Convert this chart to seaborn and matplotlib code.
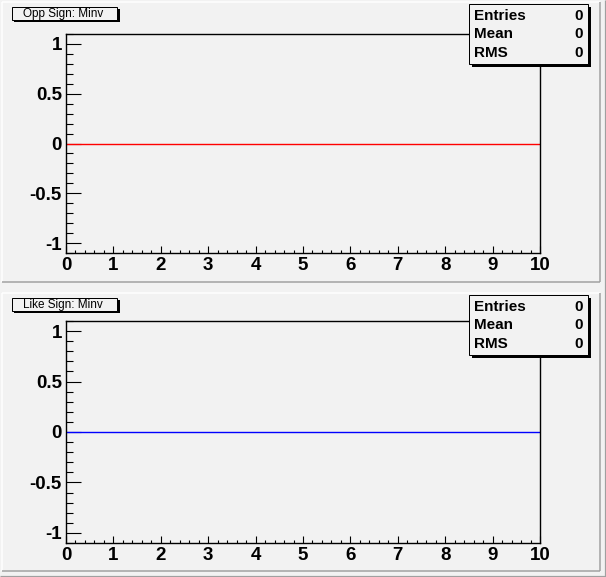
import matplotlib
matplotlib.use("Agg")
import matplotlib.pyplot as plt
from matplotlib.patches import Rectangle
from matplotlib.ticker import MultipleLocator
import seaborn as sns
import pandas as pd

# ---- data ----
pad_titles = ["Opp Sign: Minv", "Like Sign: Minv"]
line_colors = ["#ff0000", "#0000ff"]
hist_x = [0, 10]
hist_y = [0, 0]
stat_names = ["Entries", "Mean", "RMS"]
stat_values_opp = ["0", "0", "0"]
stat_values_like = ["0", "0", "0"]
x_ticks = [0, 1, 2, 3, 4, 5, 6, 7, 8, 9, 10]
y_ticks = [-1, -0.5, 0, 0.5, 1]
y_tick_labels = ["-1", "-0.5", "0", "0.5", "1"]

sns.set_style("ticks")
plt.rcParams["font.family"] = ["Liberation Sans", "DejaVu Sans"]

W, H = 606, 577
BG = "#f2f2f2"
fig = plt.figure(figsize=(W / 100, H / 100), dpi=100)
fig.patch.set_facecolor(BG)


def fx(x):
    return x / W


def fy(y):
    return 1 - y / H


def line(x0, y0, x1, y1, color, lw=1.0):
    fig.add_artist(plt.Line2D([fx(x0), fx(x1)], [fy(y0), fy(y1)],
                              transform=fig.transFigure, color=color, lw=lw * 0.72,
                              solid_capstyle="butt"))


def rect(x0, y0, x1, y1, fc, ec="none", lw=1.0, z=5):
    fig.add_artist(Rectangle((fx(x0), fy(y1)), fx(x1) - fx(x0), fy(y0) - fy(y1),
                             transform=fig.transFigure, facecolor=fc, edgecolor=ec,
                             lw=lw * 0.72, zorder=z))


# canvas border
line(0, 576, W, 576, "#a0a0a0", 1.2)
line(605, 0, 605, H, "#a0a0a0", 1.2)

pads = [(2, 2, 600, 282), (2, 293, 600, 571)]
frames = [(66, 34, 540, 253), (66, 321, 540, 543)]
stat_values = [stat_values_opp, stat_values_like]

for i in range(2):
    px0, py0, px1, py1 = pads[i]
    # bevel borders of the pad
    line(px0, py0, px1, py0, "white", 1.5)
    line(px0, py0, px0, py1, "white", 1.5)
    line(px0, py1, px1, py1, "#a0a0a0", 1.5)
    line(px1, py0, px1, py1, "#a0a0a0", 1.5)

    ax0, ay0, ax1, ay1 = frames[i]
    ax = fig.add_axes([fx(ax0), fy(ay1), fx(ax1) - fx(ax0), fy(ay0) - fy(ay1)])
    ax.set_facecolor(BG)
    df = pd.DataFrame({"x": hist_x, "y": hist_y})
    sns.lineplot(data=df, x="x", y="y", ax=ax, color=line_colors[i], lw=1.0)
    ax.set_xlim(0, 10)
    ax.set_ylim(-1.1, 1.1)
    ax.set_xlabel("")
    ax.set_ylabel("")
    ax.set_xticks(x_ticks)
    ax.set_xticklabels([str(t) for t in x_ticks])
    ax.set_yticks(y_ticks)
    ax.set_yticklabels(y_tick_labels)
    ax.xaxis.set_minor_locator(MultipleLocator(0.2))
    ax.yaxis.set_minor_locator(MultipleLocator(0.1))
    for sp in ax.spines.values():
        sp.set_visible(True)
        sp.set_color("black")
        sp.set_linewidth(1.0)
    ax.tick_params(axis="both", which="both", direction="in", colors="black",
                   width=0.8, top=False, right=False)
    ax.tick_params(axis="y", which="major", length=10.5, pad=3,
                   labelsize=13.5)
    ax.tick_params(axis="y", which="minor", length=5.2)
    ax.tick_params(axis="x", which="major", length=5.0, pad=3,
                   labelsize=13.5)
    ax.tick_params(axis="x", which="minor", length=2.5)
    for lab in ax.get_xticklabels() + ax.get_yticklabels():
        lab.set_fontweight("bold")

    # title box
    ty0 = py0 + 5
    rect(14, ty0 + 2, 120, ty0 + 15, "black", z=6)
    rect(12, ty0, 117, ty0 + 13, BG, ec="black", lw=1.0, z=7)
    fig.text(fx(63), fy(ty0 + 6.8), pad_titles[i], ha="center", va="center",
             fontsize=8.5, color="black", zorder=8)

    # stats box
    sy0 = py0 + 2
    rect(472, sy0 + 3, 591, sy0 + 63, "black", z=6)
    rect(469, sy0, 588, sy0 + 60, BG, ec="black", lw=1.0, z=7)
    for k, name in enumerate(stat_names):
        yy = sy0 + 12 + k * 18.3
        fig.text(fx(474), fy(yy), name, ha="left", va="center",
                 fontsize=11, fontweight="bold", color="black", zorder=8)
        fig.text(fx(583), fy(yy), stat_values[i][k], ha="right", va="center",
                 fontsize=11, fontweight="bold", color="black", zorder=8)

fig.savefig("out.png", dpi=100, facecolor=BG)
